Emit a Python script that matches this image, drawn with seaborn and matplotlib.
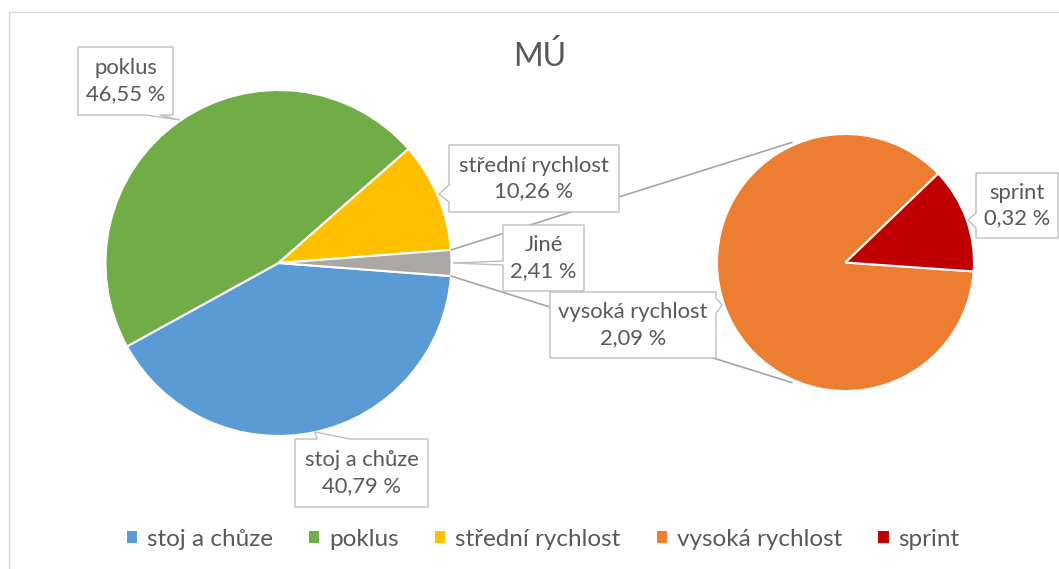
import numpy as np
import matplotlib
matplotlib.use("Agg")
import matplotlib.pyplot as plt
import seaborn as sns
from matplotlib.patches import Polygon, Patch, Rectangle

# data (share of time, %)
main_labels = ["stoj a chůze", "poklus", "střední rychlost", "Jiné"]
main_values = [40.79, 46.55, 10.26, 2.41]
sub_labels = ["vysoká rychlost", "sprint"]
sub_values = [2.09, 0.32]
chart_title = "MÚ"

main_colors = sns.color_palette(["#5B9BD5", "#70AD47", "#FFC000", "#ABA7A5"])
sub_colors = sns.color_palette(["#ED7D31", "#C00000"])

W, H = 1059, 569
TEXT = "#595959"
BORDER = "#BFBFBF"


def fy(y):
    # pixel row (top origin) -> data y (bottom origin)
    return H - y


def fmt(name, val):
    return f"{name}\n{val:.2f} %".replace(".", ",")


def callout(ax, box, side, base, tip, text):
    """Excel-like data callout: box with a small pointer."""
    x0, y0, x1, y1 = box
    if side == "left":
        pts = [(x0, y0), (x1, y0), (x1, y1), (x0, y1), (x0, base[1]), tip, (x0, base[0])]
    elif side == "right":
        pts = [(x0, y0), (x1, y0), (x1, base[0]), tip, (x1, base[1]), (x1, y1), (x0, y1)]
    elif side == "top":
        pts = [(x0, y0), (base[0], y0), tip, (base[1], y0), (x1, y0), (x1, y1), (x0, y1)]
    else:
        pts = [(x0, y0), (x1, y0), (x1, y1), (base[1], y1), tip, (base[0], y1), (x0, y1)]
    pts = [(px, fy(py)) for px, py in pts]
    ax.add_patch(Polygon(pts, closed=True, facecolor="white", edgecolor=BORDER,
                         linewidth=1.0, zorder=3))
    ax.text((x0 + x1) / 2, fy((y0 + y1) / 2), text, ha="center", va="center",
            fontsize=15.8, color=TEXT, linespacing=1.35, zorder=4)


sns.set_theme(style="white")
plt.rcParams["font.family"] = ["Lato", "DejaVu Sans"]

fig = plt.figure(figsize=(W / 100, H / 100), dpi=100)
ax = fig.add_axes([0, 0, 1, 1])

main_c = (278.5, fy(263))
main_r = 173
sub_c = (845.5, fy(262.5))
sub_r = 128.5

other_span = 360 * main_values[-1] / sum(main_values)
wp = dict(edgecolor="white", linewidth=1.5)
ax.pie(main_values, colors=main_colors, startangle=-other_span / 2, counterclock=False,
       center=main_c, radius=main_r, wedgeprops=wp)
ax.pie(sub_values, colors=sub_colors, startangle=-4, counterclock=False,
       center=sub_c, radius=sub_r, wedgeprops=wp)

# connector lines between the "Jiné" slice and the secondary pie
for sgn in (1, -1):
    a1 = np.deg2rad(sgn * other_span / 2)
    a2 = np.deg2rad(sgn * 114)
    p1 = (main_c[0] + main_r * np.cos(a1), main_c[1] + main_r * np.sin(a1))
    p2 = (sub_c[0] + (sub_r + 3) * np.cos(a2), sub_c[1] + (sub_r + 3) * np.sin(a2))
    ax.plot([p1[0], p2[0]], [p1[1], p2[1]], color="#A6A6A6", lw=1.2, zorder=2)

# data labels
callout(ax, (78, 47, 173, 115), "bottom", (146, 160), (180, 120), fmt(main_labels[1], main_values[1]))
callout(ax, (449, 145, 619, 212), "left", (185, 202), (439, 194), fmt(main_labels[2], main_values[2]))
callout(ax, (503, 225, 584, 291), "left", (261, 265), (453, 263), fmt(main_labels[3], main_values[3]))
callout(ax, (550, 292, 716, 358), "right", (298, 313), (722, 305), fmt(sub_labels[0], sub_values[0]))
callout(ax, (976, 173, 1058, 238), "left", (213, 228), (968, 220), fmt(sub_labels[1], sub_values[1]))
callout(ax, (295, 439, 428, 507), "top", (317, 350), (315, 432), fmt(main_labels[0], main_values[0]))

# chart area border
ax.add_patch(Rectangle((8.5, -10), W, fy(11.5) + 10, fill=False, edgecolor="#D9D9D9",
                       linewidth=1.0, zorder=0))

ax.set_xlim(0, W)
ax.set_ylim(0, H)
ax.set_aspect("equal")
ax.axis("off")

fig.text(540 / W, fy(56) / H, chart_title, ha="center", va="center", fontsize=23, color=TEXT)

leg_names = main_labels[:3] + sub_labels
leg_colors = list(main_colors[:3]) + list(sub_colors)
handles = [Patch(facecolor=c, edgecolor="none") for c in leg_colors]
fig.legend(handles, leg_names, loc="center", bbox_to_anchor=(543 / W, fy(539) / H), ncol=5,
           frameon=False, fontsize=17.5, handlelength=0.42, handleheight=0.42,
           handletextpad=0.4, columnspacing=1.5, labelcolor=TEXT)

fig.savefig("out.png", dpi=100)
